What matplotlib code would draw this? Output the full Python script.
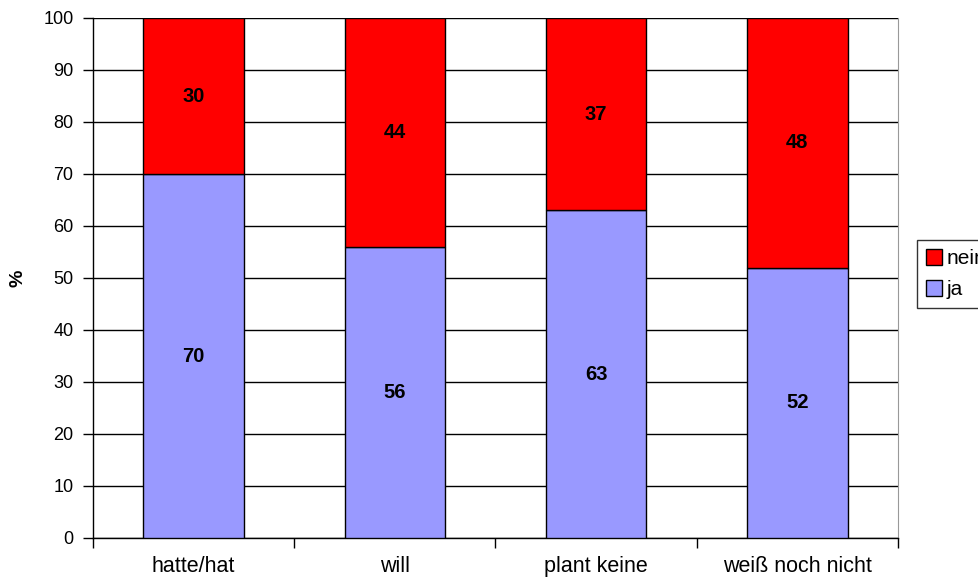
import matplotlib
matplotlib.use("Agg")
import matplotlib.pyplot as plt
from matplotlib.lines import Line2D
import numpy as np

plt.rcParams['font.family'] = ['Liberation Sans', 'DejaVu Sans']

categories = ["hatte/hat", "will", "plant keine", "weiß noch nicht"]
ja = [70, 56, 63, 52]
nein = [30, 44, 37, 48]

fig = plt.figure(figsize=(9.79, 5.79), dpi=100)
ax = fig.add_axes([93/979, 1-538/579, (898-93)/979, (538-18)/579])

x = np.arange(len(categories))
ax.bar(x, ja, width=0.5, color="#9999ff", edgecolor="black", linewidth=1, zorder=3)
ax.bar(x, nein, width=0.5, bottom=ja, color="#ff0000", edgecolor="black", linewidth=1, zorder=3)

for i in range(len(categories)):
    ax.text(x[i], ja[i] / 2, str(ja[i]), ha="center", va="center", fontsize=14.5, fontweight="bold", zorder=4)
    ax.text(x[i], ja[i] + nein[i] / 2, str(nein[i]), ha="center", va="center", fontsize=14.5, fontweight="bold", zorder=4)

ax.set_xlim(-0.5, 3.5)
ax.set_ylim(0, 100)
ax.set_yticks(np.arange(0, 101, 10))
ax.yaxis.grid(True, color="black", linewidth=1, zorder=0)
ax.set_axisbelow(True)
ax.tick_params(axis="y", direction="out", length=7, width=1, labelsize=13, pad=7)

ax.set_xticks(x)
ax.set_xticklabels(categories)
ax.tick_params(axis="x", which="major", length=0, labelsize=15.5, pad=13)
ax.set_xticks(np.arange(-0.5, 4, 1), minor=True)
ax.tick_params(axis="x", which="minor", direction="out", length=7, width=1)

ax.spines["top"].set_visible(False)
ax.spines["right"].set_color("#999999")
ax.spines["left"].set_linewidth(1)
ax.spines["bottom"].set_linewidth(1)

ax.set_ylabel("%", fontsize=14, fontweight="bold", labelpad=12)

handles = [
    Line2D([], [], marker="s", linestyle="none", markersize=11, markerfacecolor="#ff0000", markeredgecolor="black"),
    Line2D([], [], marker="s", linestyle="none", markersize=11, markerfacecolor="#9999ff", markeredgecolor="black"),
]
leg = fig.legend(handles, ["nein", "ja"], loc="upper left", bbox_to_anchor=(917/979, 1-240/579),
                 frameon=True, fancybox=False, edgecolor="black", fontsize=15,
                 handlelength=0.7, handletextpad=0.25, borderpad=0.45, labelspacing=0.55, borderaxespad=0)
leg.get_frame().set_linewidth(1)

fig.savefig("out.png", dpi=100)
